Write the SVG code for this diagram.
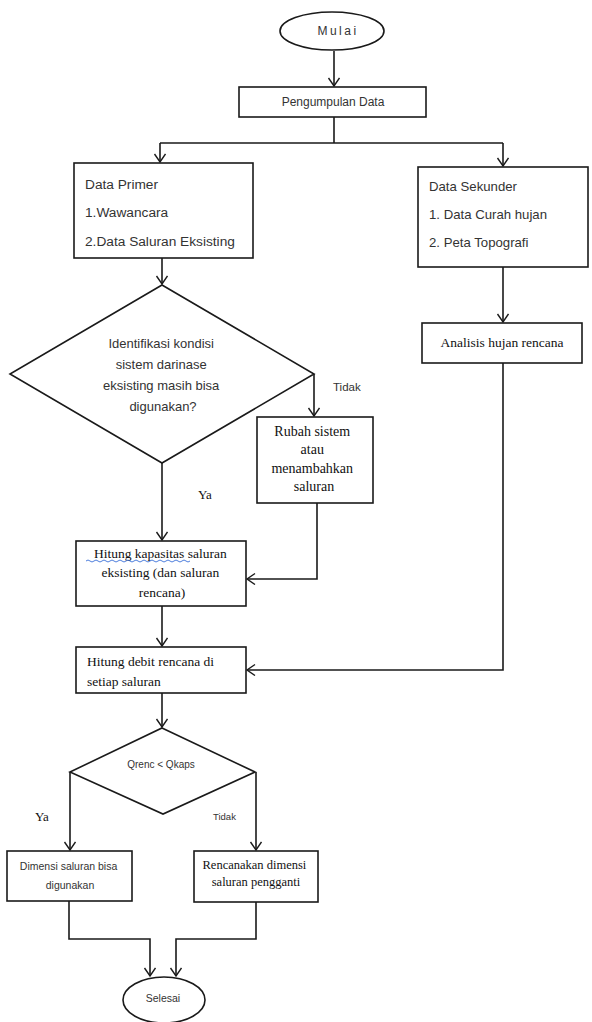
<svg xmlns="http://www.w3.org/2000/svg" width="592" height="1022" viewBox="0 0 592 1022">
<defs>
<marker id="arr" markerUnits="userSpaceOnUse" markerWidth="14" markerHeight="14" refX="9" refY="6" orient="auto">
<path d="M1,0.5 L9,6 L1,11.5" fill="none" stroke="#1a1a1a" stroke-width="1.4"/>
</marker>
<style>
.shape{fill:#fff;stroke:#1a1a1a;stroke-width:1.6}
.con{fill:none;stroke:#1a1a1a;stroke-width:1.6}
.sans{font-family:"Liberation Sans",Arial,sans-serif;fill:#333}
.serif{font-family:"Liberation Serif","Times New Roman",serif;fill:#111}
</style>
</defs>
<rect width="592" height="1022" fill="#fff"/>

<g id="connectors">
<path class="con" d="M334,51 V86" marker-end="url(#arr)"/>
<path class="con" d="M334,117 V143 M160,143 H503"/>
<path class="con" d="M160,143 V162" marker-end="url(#arr)"/>
<path class="con" d="M503,143 V166" marker-end="url(#arr)"/>
<path class="con" d="M162,258 V284" marker-end="url(#arr)"/>
<path class="con" d="M503,267 V322" marker-end="url(#arr)"/>
<path class="con" d="M314,374 V416" marker-end="url(#arr)"/>
<path class="con" d="M162,463 V540" marker-end="url(#arr)"/>
<path class="con" d="M317,503 V579 H247" marker-end="url(#arr)"/>
<path class="con" d="M162,606 V646" marker-end="url(#arr)"/>
<path class="con" d="M503,363 V670 H247" marker-end="url(#arr)"/>
<path class="con" d="M162,693 V727" marker-end="url(#arr)"/>
<path class="con" d="M70,772 V850" marker-end="url(#arr)"/>
<path class="con" d="M256,772 V850" marker-end="url(#arr)"/>
<path class="con" d="M69,901 V939 H150 V976" marker-end="url(#arr)"/>
<path class="con" d="M256,902 V939 H176 V976" marker-end="url(#arr)"/>
</g>

<g id="mulai">
<ellipse class="shape" cx="332" cy="31" rx="52" ry="19"/>
<text class="sans" x="338" y="35" font-size="12" letter-spacing="2.5" text-anchor="middle">Mulai</text>
</g>

<g id="pengumpulan">
<rect class="shape" x="239" y="87" width="187" height="30"/>
<text class="sans" x="333" y="106" font-size="12" text-anchor="middle">Pengumpulan Data</text>
</g>

<g id="data-primer">
<rect class="shape" x="74" y="163" width="179" height="95"/>
<text class="sans" x="85" y="189" font-size="13.7">Data Primer</text>
<text class="sans" x="85" y="217" font-size="13.7">1.Wawancara</text>
<text class="sans" x="85" y="246" font-size="13.7">2.Data Saluran Eksisting</text>
</g>

<g id="data-sekunder">
<rect class="shape" x="418" y="167" width="170" height="100"/>
<text class="sans" x="429" y="191" font-size="13.2">Data Sekunder</text>
<text class="sans" x="429" y="219" font-size="13.2">1. Data Curah hujan</text>
<text class="sans" x="429" y="247" font-size="13.2">2. Peta Topografi</text>
</g>

<g id="analisis">
<rect class="shape" x="422" y="323" width="160" height="40"/>
<text class="serif" x="502" y="347" font-size="13.5" text-anchor="middle">Analisis hujan rencana</text>
</g>

<g id="identifikasi">
<polygon class="shape" points="162,285 314,374 162,463 10,374"/>
<text class="sans" font-size="13" text-anchor="middle">
<tspan x="163" y="348">Identifikasi kondisi</tspan>
<tspan x="163" y="369">sistem darinase</tspan>
<tspan x="163" y="390">eksisting masih bisa</tspan>
<tspan x="163" y="411">digunakan?</tspan>
</text>
<text class="sans" x="333" y="391" font-size="11.5">Tidak</text>
<text class="serif" x="198" y="499" font-size="13">Ya</text>
</g>

<g id="rubah">
<rect class="shape" x="257" y="417" width="116" height="86"/>
<text class="serif" font-size="14" text-anchor="middle">
<tspan x="314" y="436">Rubah sistem</tspan>
<tspan x="314" y="454">atau</tspan>
<tspan x="314" y="473">menambahkan</tspan>
<tspan x="314" y="491">saluran</tspan>
</text>
</g>

<g id="hitung-kapasitas">
<rect class="shape" x="76" y="541" width="170" height="65"/>
<text class="serif" font-size="13.5" text-anchor="middle">
<tspan x="162" y="558">Hitung kapasitas saluran</tspan>
<tspan x="162" y="577">eksisting (dan saluran</tspan>
<tspan x="162" y="597">rencana)</tspan>
</text>
<path d="M86,561 q2,-2 4,0 t4,0 t4,0 t4,0 t4,0 t4,0 t4,0 t4,0 t4,0 t4,0 t4,0 t4,0 t4,0 t4,0 t4,0 t4,0 t4,0 t4,0 t4,0 t4,0 t4,0 t4,0 t4,0 t4,0 t4,0 t4,0" fill="none" stroke="#3a6fd8" stroke-width="0.9"/>
</g>

<g id="hitung-debit">
<rect class="shape" x="76" y="647" width="170" height="46"/>
<text class="serif" font-size="13.5">
<tspan x="87" y="666">Hitung debit rencana di</tspan>
<tspan x="87" y="686">setiap saluran</tspan>
</text>
</g>

<g id="qrenc">
<polygon class="shape" points="162,728 255,772 163,814 70,772"/>
<text class="sans" x="161" y="768" font-size="10" text-anchor="middle">Qrenc &lt; Qkaps</text>
<text class="serif" x="35" y="821" font-size="13">Ya</text>
<text class="sans" x="213" y="820" font-size="9.5">Tidak</text>
</g>

<g id="dimensi">
<rect class="shape" x="7" y="851" width="125" height="50"/>
<text class="sans" font-size="10.5" text-anchor="middle">
<tspan x="70" y="870">Dimensi saluran bisa</tspan>
<tspan x="70" y="889">digunakan</tspan>
</text>
</g>

<g id="rencanakan">
<rect class="shape" x="194" y="851" width="124" height="51"/>
<text class="serif" font-size="12.5" text-anchor="middle">
<tspan x="256" y="869">Rencanakan dimensi</tspan>
<tspan x="256" y="886">saluran pengganti</tspan>
</text>
</g>

<g id="selesai">
<ellipse class="shape" cx="164" cy="1000" rx="41" ry="23"/>
<text class="sans" x="163" y="1002" font-size="10.5" text-anchor="middle">Selesai</text>
</g>
</svg>
